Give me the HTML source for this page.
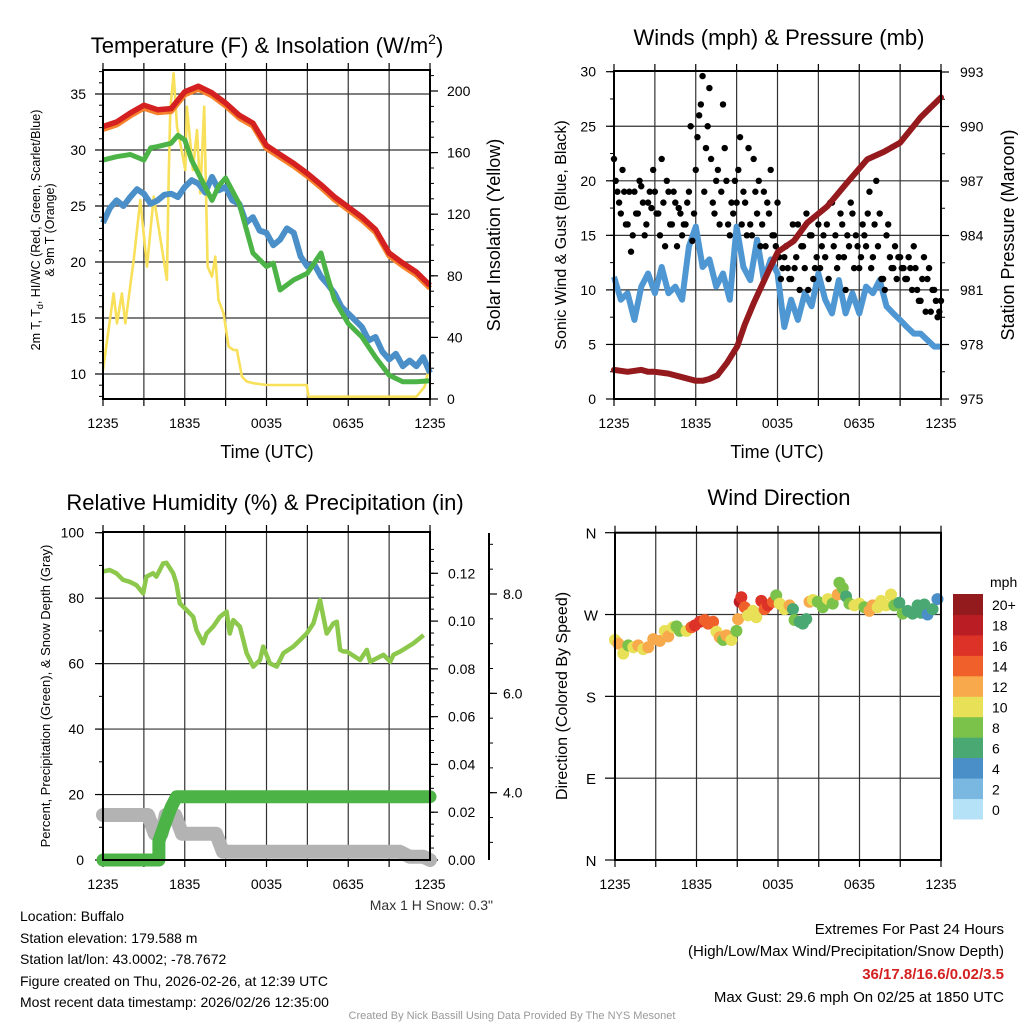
<!DOCTYPE html>
<html><head><meta charset="utf-8"><style>
html,body{margin:0;padding:0;background:#fff;}
svg{display:block;font-family:"Liberation Sans",Arial,sans-serif;}
</style></head><body>
<svg id="chart" width="1024" height="1024" viewBox="0 0 1024 1024" xmlns="http://www.w3.org/2000/svg">
<rect x="0" y="0" width="1024" height="1024" fill="#fff"/>
<text x="267" y="53" font-size="22" text-anchor="middle">Temperature (F) &amp; Insolation (W/m<tspan font-size="14" dy="-9">2</tspan><tspan dy="9">)</tspan></text>
<text x="779" y="45" font-size="22" text-anchor="middle">Winds (mph) &amp; Pressure (mb)</text>
<text x="265" y="510" font-size="22" text-anchor="middle">Relative Humidity (%) &amp; Precipitation (in)</text>
<text x="779" y="505" font-size="22" text-anchor="middle">Wind Direction</text>
<text x="267" y="458" font-size="18" text-anchor="middle">Time (UTC)</text>
<text x="777" y="458" font-size="18" text-anchor="middle">Time (UTC)</text>
<text transform="translate(40,230) rotate(-90)" font-size="12.5" text-anchor="middle">2m T, T<tspan font-size="9" dy="3">d</tspan><tspan dy="-3">, HI/WC (Red, Green, Scarlet/Blue)</tspan></text>
<text transform="translate(54,230) rotate(-90)" font-size="12.5" text-anchor="middle">&amp; 9m T (Orange)</text>
<text transform="translate(500,235) rotate(-90)" font-size="18" text-anchor="middle">Solar Insolation (Yellow)</text>
<text transform="translate(566,235) rotate(-90)" font-size="16" text-anchor="middle">Sonic Wind &amp; Gust (Blue, Black)</text>
<text transform="translate(1014,235) rotate(-90)" font-size="18" text-anchor="middle">Station Pressure (Maroon)</text>
<text transform="translate(50,696) rotate(-90)" font-size="13" text-anchor="middle">Percent, Precipitation (Green), &amp; Snow Depth (Gray)</text>
<text transform="translate(567,696) rotate(-90)" font-size="16" text-anchor="middle">Direction (Colored By Speed)</text>
<text x="493" y="910" font-size="14" fill="#333" text-anchor="end">Max 1 H Snow: 0.3"</text>
<g font-size="14">
<text x="20" y="921">Location: Buffalo</text>
<text x="20" y="943">Station elevation: 179.588 m</text>
<text x="20" y="964">Station lat/lon: 43.0002; -78.7672</text>
<text x="20" y="986">Figure created on Thu, 2026-02-26, at 12:39 UTC</text>
<text x="20" y="1007">Most recent data timestamp: 2026/02/26 12:35:00</text>
</g>
<g font-size="15" text-anchor="end">
<text x="1004" y="934">Extremes For Past 24 Hours</text>
<text x="1004" y="956">(High/Low/Max Wind/Precipitation/Snow Depth)</text>
<text x="1004" y="979" fill="#d42020" font-weight="bold">36/17.8/16.6/0.02/3.5</text>
<text x="1004" y="1002">Max Gust: 29.6 mph On 02/25 at 1850 UTC</text>
</g>
<text x="512" y="1019" font-size="11" fill="#999" text-anchor="middle">Created By Nick Bassill Using Data Provided By The NYS Mesonet</text>
</svg>
<script>
// ---- data ----
const hourTickLabels = ["1235","1835","0035","0635","1235"];
const tempHours = [0,1,2,3,4,5,6,7,8,9,10,11,12,13,14,15,16,17,18,19,20,21,22,23,24];
const tempRed = [32.1,32.5,33.3,34.0,33.6,33.7,35.2,35.7,35.1,34.2,33.1,32.4,30.4,29.6,28.8,27.9,26.9,25.8,24.9,24.0,22.9,20.8,19.9,19.1,17.9];
const greenHours = [0,1,2,3,3.5,4,5,5.5,6,6.5,7,7.5,8,8.5,9,10,11,12,12.5,13,14,15,16,16.5,17,18,19,20,21,22,23,24];
const tempGreen = [29.1,29.4,29.6,29.1,30.2,30.3,30.6,31.3,30.9,29.1,27.9,26.7,25.5,26.8,27.5,25.2,20.8,19.6,19.9,17.5,18.4,19.0,20.8,18.6,16.6,14.5,13.3,11.5,9.9,9.3,9.3,9.4];
const blueHours = [0,0.5,1,1.5,2,2.5,3,3.5,4,4.5,5,5.5,6,6.5,7,7.5,8,8.5,9,9.5,10,10.5,11,11.5,12,12.5,13,13.5,14,14.5,15,15.5,16,16.5,17,17.5,18,18.5,19,19.5,20,20.5,21,21.5,22,22.5,23,23.5,24];
const tempBlue = [23.5,24.8,25.5,25.0,25.8,26.5,26.1,25.2,25.5,26.0,26.1,25.8,26.7,27.3,27.0,26.2,27.6,26.4,26.7,25.5,25.2,23.5,24.0,22.8,22.6,21.5,22.0,23.0,22.6,20.5,19.6,19.8,18.7,18.0,17.2,16.0,15.4,14.8,14.2,13.0,13.3,12.0,11.3,11.8,10.7,11.2,10.7,11.5,10.1];
const solarHours = [0,0.78,1.03,1.39,1.64,2.25,2.74,3.23,3.72,4.69,4.82,4.94,5.18,5.43,5.67,6.04,6.16,6.6,6.9,7.14,7.43,7.68,8.0,8.24,8.48,8.85,9.22,9.58,9.83,10.2,10.56,11.05,12.0,14.96,15.08,23.0,23.6,24];
const solarVals = [18.8,68.6,49.1,68.6,49.1,90.3,129.2,86,131.4,77.4,144.4,187.7,211.5,176.9,166,148.7,189.8,148.7,174.7,133.5,189.8,86,79.5,92.5,64.3,55.6,34,31.8,31.8,14.5,11.3,10.2,9.1,9.1,1.5,1.5,8,23];
const pressHours = [0,1,2,2.5,3,4,5,6,6.5,7,7.58,8.3,9.05,9.6,10.27,11.5,12.03,13.2,14.18,15.65,17.1,18.6,19.8,21.0,22.5,24];
const pressVals = [976.6,976.5,976.6,976.5,976.5,976.4,976.2,976.0,976.0,976.1,976.3,977.0,977.9,979.1,980.3,982.3,983.1,983.7,984.7,985.6,986.9,988.2,988.6,989.1,990.5,991.6];
const windHours = [0,0.5,1,1.5,2,2.5,3,3.5,4,4.5,5,5.5,6,6.5,7,7.5,8,8.5,9,9.5,10,10.5,11,11.5,12,12.5,13,13.5,14,14.5,15,15.5,16,16.5,17,17.5,18,18.5,19,19.5,20,20.5,21,21.5,22,22.5,23,23.5,24];
const windVals = [11.2,9.1,9.7,7.25,10.3,11.5,9.7,12.1,9.7,10.3,9.1,13.97,15.8,12.1,12.8,10.3,11.5,9.1,15.8,12.1,10.9,14.6,10.9,12.8,11.5,6.6,9.1,7.25,9.7,8.5,11.5,9.1,7.85,10.9,7.85,9.7,7.85,10.3,9.7,10.9,8.5,7.85,7.25,6.6,5.99,5.99,5.4,4.8,4.8];
const gustVals = [22,19,17,19,16,13.5,19,17,19.5,15,18,17.5,19,17,22,14,19,16,18,17.5,15,16,19,14.5,21,26,29.6,23,28.5,18,20,16,27,20,15,17,18,24,19,15,16,22,17,14,19,18,21,15,18,11,13,12,11,12,16,14,12,10,15,12,16,14,13,11,18,15,13,16,10,14,17,15,12,16,14,19,13,20,17,11,15,13,12,11,13,12,11,12,14,10,9,13,11,8,10,7.5,9];
const gustVals2 = [20,18,21,16,19,15,17,20,18,16,19,21,17,15,18,20,16,19,14,17,16,18,25,17,24,27,19,25,22,17,21,19,23,16,18,20,21,16,18,23,15,19,20,16,14,17,15,14,13,12,14,11,16,13,10,14,17,15,11,13,12,15,16,18,14,12,17,13,15,18,12,14,13,15,17,12,16,14,11,10,16,12,14,13,12,11,13,10,12,9,11,8,12,10,9,8];
const rhHours = [0,0.49,0.98,1.47,1.96,2.45,2.94,3.19,3.68,3.92,4.41,4.66,5.15,5.39,5.64,6.13,6.62,6.86,7.35,7.6,8.09,8.58,9.07,9.31,9.56,10.05,10.54,11.03,11.52,11.76,12.25,12.75,13.24,13.97,14.46,14.95,15.44,15.93,16.42,16.91,17.16,17.4,17.65,17.89,18.87,19.36,19.61,19.85,20.59,21.08,21.32,21.81,22.79,23.53];
const rhVals = [88.1,88.6,87.6,85.6,85.0,84.0,81.5,86.6,87.6,86.6,90.6,90.8,87.6,84.5,78.4,76.4,74.3,70.2,66.2,69.2,71.3,74.3,75.9,69.2,73.3,71.3,63.2,59.1,61.1,65.2,60.1,59.1,63.2,65.2,67.2,69.2,72.3,79.4,69.2,72.3,72.8,64.2,63.7,63.7,61.1,64.2,60.6,61.1,62.7,60.6,62.7,63.7,66.2,68.7];
const precipHours = [0,4.1,4.1,4.6,5.0,5.4,24];
const precipVals = [0,0,0.008,0.016,0.022,0.0265,0.0265];
const snowHours = [0,3.3,3.8,4.3,4.6,5.3,5.8,8.3,8.8,21.8,22.5,23.5,24];
const snowVals = [13.75,13.75,8,8,13.75,13.75,8,8,2.5,2.5,1,1,0];
const dirHours = [0,0.24,0.61,0.98,1.35,1.71,2.08,2.45,2.82,3.3,3.67,3.92,4.27,4.53,4.77,5.26,5.63,5.88,6.24,6.61,6.86,7.22,7.47,7.71,7.96,8.2,8.57,8.94,9.06,9.18,9.3,9.55,9.79,10.16,10.4,10.77,11.01,11.26,11.63,11.87,12.12,12.48,12.85,13.1,13.22,13.59,13.83,14.08,14.32,14.57,14.93,15.3,15.67,16.03,16.4,16.52,16.77,17.01,17.26,17.62,17.99,18.36,18.73,18.97,19.34,19.59,19.95,20.32,20.56,20.93,21.18,21.54,21.91,22.28,22.52,22.77,23.01,23.38,23.74,24];
const dirVals = [242,238,227,236,234,236,232,234,243,241,252,246,256,257,252,252,256,258,262,264,260,262,251,245,242,247,242,252,265,284,289,278,269,274,267,285,276,280,284,291,282,276,280,276,264,262,260,265,284,286,284,278,287,282,292,305,299,290,282,280,282,278,274,280,278,285,280,292,280,283,271,274,271,280,272,281,270,276,287];
const dirSpeed = [10,12,10,8,10,12,10,12,12,12,10,12,10,8,8,10,14,16,16,14,14,14,10,12,8,12,10,8,12,18,16,14,10,10,10,16,14,16,14,8,10,10,12,6,8,6,6,6,12,10,8,8,10,8,12,8,8,6,8,10,10,8,12,12,10,10,10,10,8,6,8,6,6,6,6,6,4,6,4,6];
const speedColors = ["#b6e2f8","#7ab8e2","#4a8fc7","#4aa873","#7bc24b","#e8e057","#f8a94b","#f0602b","#dd3227","#bb1d25","#931a1d"];
const speedLabels = ["0","2","4","6","8","10","12","14","16","18","20+"];

// ---- helpers ----
const NS = "http://www.w3.org/2000/svg";
const svg = document.getElementById("chart");
function mk(tag, attrs, parent){ const e=document.createElementNS(NS,tag); for(const k in attrs) e.setAttribute(k,attrs[k]); (parent||svg).appendChild(e); return e; }
function lin(d0,d1,r0,r1){ return v=>r0+(v-d0)*(r1-r0)/(d1-d0); }
function pathD(xs,ys,fx,fy){ return xs.map((h,i)=>(i?"L":"M")+fx(h).toFixed(1)+","+fy(ys[i]).toFixed(1)).join(""); }
function frame(name,x0,x1,y0,y1,hGrid,fy){
  const g=mk("g",{});
  
  
  const fx=lin(0,24,x0,x1);
  for(let h=3;h<24;h+=3) mk("line",{x1:fx(h),x2:fx(h),y1:y0,y2:y1,stroke:"#333","stroke-width":1.2},g);
  hGrid.forEach(v=>mk("line",{x1:x0,x2:x1,y1:fy(v),y2:fy(v),stroke:"#333","stroke-width":1.2},g));
  for(let h=0;h<=24;h+=3) mk("line",{x1:fx(h),x2:fx(h),y1:y1,y2:y1+7,stroke:"#000","stroke-width":1.2},g);
  for(let h=0;h<=24;h+=3) mk("line",{x1:fx(h),x2:fx(h),y1:y0,y2:y0-7,stroke:"#000","stroke-width":1.2},g);
  hourTickLabels.forEach((t,i)=>{ const tx=mk("text",{x:fx(i*6),y:y1+29,"font-size":14,"text-anchor":"middle"},g); tx.textContent=t; });
  return {g,fx};
}
function border(x0,x1,y0,y1){ const r=mk("rect",{x:x0,y:y0,width:x1-x0,height:y1-y0,fill:"none",stroke:"#000","stroke-width":2});
  
   }
function yTicks(g,vals,fy,x,side,fmt,labelX,anchor,minor){
  minor.forEach(v=>mk("line",{x1:x,x2:x+(side*4),y1:fy(v),y2:fy(v),stroke:"#000","stroke-width":1},g));
  vals.forEach(v=>{ mk("line",{x1:x,x2:x+side*8,y1:fy(v),y2:fy(v),stroke:"#000","stroke-width":1.2},g);
    const t=mk("text",{x:labelX,y:fy(v)+5,"font-size":14,"text-anchor":anchor},g); t.textContent=fmt(v); });
}
function range(a,b,s){ const r=[]; for(let v=a;v<=b+1e-9;v+=s) r.push(+v.toFixed(4)); return r; }

// ---- panel 1: temperature ----
{
  const x0=103,x1=430,y0=70,y1=399;
  const fy=lin(10,35,374,94), fs=lin(0,200,399,91);
  const {g,fx}=frame("temp",x0,x1,y0,y1,[10,15,20,25,30,35],fy);
  yTicks(g,[10,15,20,25,30,35],fy,x0,-1,v=>v,86,"end",range(8,37,1));
  yTicks(g,[0,40,80,120,160,200],fs,x1,1,v=>v,447,"start",range(0,210,10));
  const y=mk("path",{d:pathD(solarHours,solarVals,fx,fs),fill:"none",stroke:"#f8e05a","stroke-width":2.6,"stroke-linejoin":"round"});
  
  
  const b=mk("path",{d:pathD(blueHours,tempBlue,fx,fy),fill:"none",stroke:"#4a8fc7","stroke-width":6,"stroke-linejoin":"round"});
  
  
  const gr=mk("path",{d:pathD(greenHours,tempGreen,fx,fy),fill:"none",stroke:"#4cb347","stroke-width":5,"stroke-linejoin":"round"});
  
  
  const o=mk("path",{d:pathD(tempHours,tempRed.map(v=>v-0.25),fx,fy),fill:"none",stroke:"#f6832c","stroke-width":5.5,"stroke-linejoin":"round"});
  
  
  const r=mk("path",{d:pathD(tempHours,tempRed,fx,fy),fill:"none",stroke:"#d42020","stroke-width":5.5,"stroke-linejoin":"round"});
  
  
  border(x0,x1,y0,y1);
}
// ---- panel 2: winds ----
{
  const x0=614,x1=941,y0=71,y1=399;
  const fy=lin(0,30,399,71.7), fp=lin(975,993,399,72);
  const {g,fx}=frame("wind",x0,x1,y0,y1,[5,10,15,20,25],fy);
  yTicks(g,[0,5,10,15,20,25,30],fy,x0,-1,v=>v,596,"end",range(0,30,2.5));
  yTicks(g,[975,978,981,984,987,990,993],fp,x1,1,v=>v,960,"start",range(975,993,1.5));
  const b=mk("path",{d:pathD(windHours,windVals,fx,fy),fill:"none",stroke:"#4f97d3","stroke-width":6,"stroke-linejoin":"round"});
  
  
  const gg=mk("g",{});
  
  
  gustVals.forEach((v,i)=>{ const c=mk("circle",{cx:fx(i*0.25),cy:fy(v),r:3.2,fill:"#000"},gg);
    
     });
  gustVals2.forEach((v,i)=>{ const c=mk("circle",{cx:fx(i*0.25+0.125),cy:fy(v),r:3.2,fill:"#000"},gg);
    
     });
  const p=mk("path",{d:pathD(pressHours,pressVals,fx,fp),fill:"none",stroke:"#951a1d","stroke-width":6,"stroke-linejoin":"round","stroke-linecap":"round"});
  
  
  border(x0,x1,y0,y1);
}
// ---- panel 3: RH & precip ----
{
  const x0=103,x1=430,y0=532,y1=860;
  const fy=lin(0,100,860,532.7), fpr=lin(0,0.12,860,573.3), fsn=lin(4,8,792.7,594);
  const {g,fx}=frame("rh",x0,x1,y0,y1,[20,40,60,80],fy);
  yTicks(g,[0,20,40,60,80,100],fy,x0,-1,v=>v,84,"end",range(0,100,10));
  yTicks(g,[0,0.02,0.04,0.06,0.08,0.10,0.12],fpr,x1,1,v=>v.toFixed(2),448,"start",range(0,0.13,0.005));
  mk("line",{x1:489,x2:489,y1:533,y2:860,stroke:"#000","stroke-width":2},g);
  yTicks(g,[4,6,8],fsn,489,1,v=>v.toFixed(1),503,"start",range(3,9,0.5));
  const s=mk("path",{d:pathD(snowHours,snowVals,fx,fy),fill:"none",stroke:"#b3b3b3","stroke-width":14,"stroke-linejoin":"round","stroke-linecap":"round"});
  
  
  const pr=mk("path",{d:pathD(precipHours,precipVals,fx,fpr),fill:"none",stroke:"#4cb347","stroke-width":13,"stroke-linejoin":"round","stroke-linecap":"round"});
  
  
  const rh=mk("path",{d:pathD(rhHours,rhVals,fx,fy),fill:"none",stroke:"#8cc84b","stroke-width":4.5,"stroke-linejoin":"round"});
  
  
  border(x0,x1,y0,y1);
}
// ---- panel 4: wind direction ----
{
  const x0=615,x1=941,y0=532.7,y1=860;
  const fy=lin(0,360,860,532.7);
  const {g,fx}=frame("dir",x0,x1,y0,y1,[90,180,270],fy);
  ["N","E","S","W","N"].forEach((t,i)=>{ const v=i*90;
    mk("line",{x1:x0-10,x2:x0,y1:fy(v),y2:fy(v),stroke:"#000","stroke-width":1.2},g);
    const tx=mk("text",{x:591,y:fy(v)+6,"font-size":15,"text-anchor":"middle"},g); tx.textContent=t; });
  const dg=mk("g",{});
  
  
  dirVals.forEach((v,i)=>{ const idx=Math.min(10,Math.round(dirSpeed[i]/2));
    const c=mk("circle",{cx:fx(dirHours[i]),cy:fy(v),r:6,fill:speedColors[idx]},dg);
    
     });
  border(x0,x1,y0,y1);
  const cb=mk("g",{});
  
  
  const h=(819-594)/11;
  speedColors.forEach((c,i)=>{ const yy=819-(i+1)*h;
    mk("rect",{x:953,y:yy,width:30,height:h+0.5,fill:c},cb);
    const t=mk("text",{x:992,y:yy+h/2+6,"font-size":14},cb); t.textContent=speedLabels[i]; });
  const u=mk("text",{x:990,y:587,"font-size":14},cb); u.textContent="mph";
}
</script>
</body></html>
